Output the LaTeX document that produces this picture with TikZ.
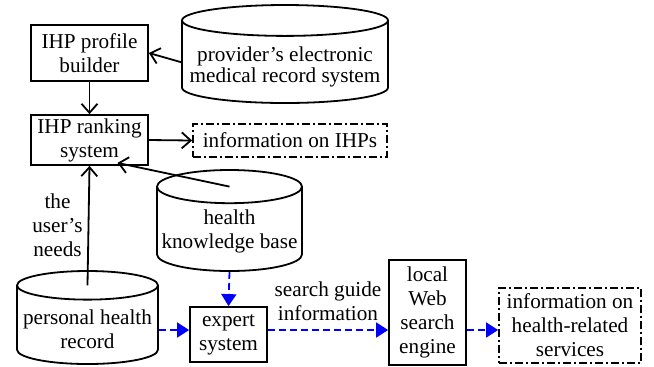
\documentclass[tikz,border=0pt]{standalone}
\usepackage{fontspec}
\setmainfont{Liberation Serif}
\usetikzlibrary{arrows.meta,shapes.geometric,calc}

\begin{document}
\begin{tikzpicture}[x=0.5pt,y=-0.5pt,
            every node/.style={font=\fontsize{10.6}{12}\selectfont, align=center, inner sep=0pt},
            proc/.style={draw, line width=0.9pt, rectangle},
            store/.style={draw, line width=0.9pt, cylinder, shape border rotate=90, anchor=shape center},
            result/.style={draw, line width=0.9pt, dash pattern=on 4pt off 1.5pt on 1pt off 1.5pt},
            flow/.style={line width=0.9pt, -{Straight Barb[length=4.5pt,width=8pt]}},
            guide/.style={blue, line width=0.9pt, dash pattern=on 3.5pt off 2pt, -{Triangle[length=6pt,width=7.5pt]}}]
            \useasboundingbox (0,0) rectangle (654,366);
            \node[proc, minimum width=58.5pt, minimum height=28pt] (Prof) at (89.5,53) {IHP profile\\builder};
            \node[proc, minimum width=58.5pt, minimum height=25pt] (Rank) at (89.5,140) {IHP ranking\\system};
            \node[store, aspect=0.162, minimum width=103pt, minimum height=49pt] (EMR) at (285,54) {\rule{0pt}{12.4pt}provider's electronic\\[-1.5pt]medical record system};
            \node[result, minimum width=97pt, minimum height=16.5pt] (IHPInfo) at (290,140.5) {information on IHPs};
            \node[store, aspect=0.244, minimum width=72.5pt, minimum height=50.5pt] (KB) at (229.5,220.5) {\rule{0pt}{9.7pt}health\\knowledge base};
            \node[store, aspect=0.222, minimum width=70.5pt, minimum height=46.5pt] (PHR) at (87.5,317.5) {\rule{0pt}{11.2pt}personal health\\record};
            \node[proc, minimum width=38.5pt, minimum height=27.5pt] (Expert) at (228.5,334.5) {expert\\system};
            \node[proc, minimum width=38.5pt, minimum height=52.5pt] (Web) at (427.5,312.5) {local\\Web\\search\\engine};
            \node[result, minimum width=71pt, minimum height=37.5pt] (SvcInfo) at (570,325.5) {information on\\health-related\\services};
            \coordinate (Row) at (0,330);
            \draw[flow] (EMR.west) -- (Prof.east);
            \draw[flow] (Prof.south) -- (Rank.north);
            \draw[flow] (Rank.east) -- (IHPInfo.west);
            \draw[flow] ($(KB.before top)!0.5!(KB.after top)$) -- ([xshift=14pt,yshift=1.5pt]Rank.south);
            \draw[flow] ($(PHR.before top)!0.5!(PHR.after top)$) -- (Rank.south) node[midway, left=2.5pt] {the\\user's\\needs};
            \draw[guide] (KB.bottom) -- (Expert.north);
            \draw[guide] (PHR.east |- Row) -- (Expert.west |- Row);
            \draw[guide] (Expert.east |- Row) -- (Web.west |- Row) node[midway, above=4pt, black] {search guide\\information};
            \draw[guide] (Web.east |- Row) -- (SvcInfo.west |- Row);
        \end{tikzpicture}
\end{document}
